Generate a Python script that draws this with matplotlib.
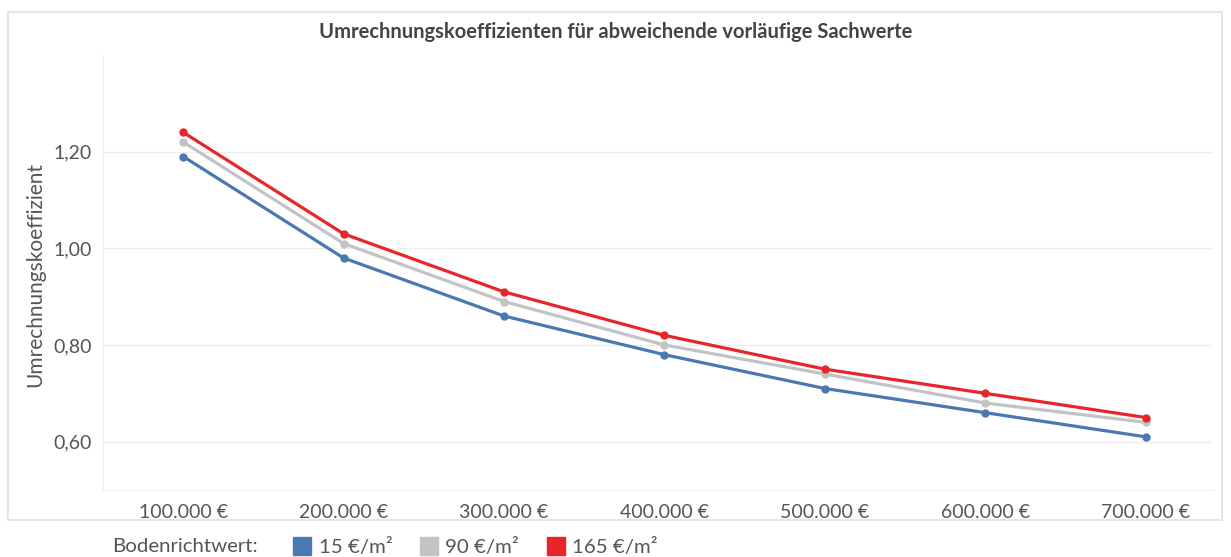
import matplotlib
matplotlib.use('Agg')
from matplotlib import pyplot as plt
from matplotlib.lines import Line2D
from matplotlib.patches import Rectangle

plt.rcParams['font.family'] = ['Lato', 'DejaVu Sans']

kategorien = ['100.000 €', '200.000 €', '300.000 €', '400.000 €',
              '500.000 €', '600.000 €', '700.000 €']
werte_15 = [1.19, 0.98, 0.86, 0.78, 0.71, 0.66, 0.61]
werte_90 = [1.22, 1.01, 0.89, 0.80, 0.74, 0.68, 0.64]
werte_165 = [1.24, 1.03, 0.91, 0.82, 0.75, 0.70, 0.65]
serien_namen = ['15 €/m²', '90 €/m²', '165 €/m²']
y_ticks = [0.60, 0.80, 1.00, 1.20]

farben = ['#4a78b0', '#c3c3c3', '#e8262a']

fig = plt.figure(figsize=(12.31, 5.57), dpi=100)
ax = fig.add_axes([103 / 1231, 1 - 490 / 557, (1213 - 103) / 1231, (490 - 55) / 557])

# rahmen um das diagramm
fig.patches.append(Rectangle((8 / 1231, 1 - 520 / 557), 1214 / 1231, 508 / 557,
                             transform=fig.transFigure, fill=False,
                             edgecolor='#e2e2e2', linewidth=1.2))

x = list(range(len(kategorien)))
for werte, farbe, name in zip([werte_15, werte_90, werte_165], farben, serien_namen):
    ax.plot(x, werte, color=farbe, linewidth=2.3, marker='o', markersize=5, label=name)

ax.set_xlim(-0.5, 6.42)
ax.set_ylim(0.5, 1.4)
ax.set_xticks(x)
ax.set_xticklabels(kategorien)
ax.set_yticks(y_ticks)
ax.set_yticklabels([f'{v:.2f}'.replace('.', ',') for v in y_ticks])
ax.tick_params(length=0, colors='#555555', labelsize=14)
ax.tick_params(axis='x', pad=10)
ax.tick_params(axis='y', pad=8)
ax.grid(axis='y', color='#eeeeee', linewidth=1)
ax.set_axisbelow(True)
for s in ['top', 'right']:
    ax.spines[s].set_visible(False)
ax.spines['left'].set_color('#eeeeee')
ax.spines['bottom'].set_color('#eeeeee')

fig.text(35 / 1231, 1 - 275 / 557, 'Umrechnungskoeffizient', rotation=90,
         ha='center', va='center', fontsize=15, color='#555555')
fig.text(0.5, 1 - 32 / 557, 'Umrechnungskoeffizienten für abweichende vorläufige Sachwerte',
         ha='center', va='center', fontsize=14.5, fontweight='bold', color='#444444')

fig.text(112 / 1231, 1 - 546 / 557, 'Bodenrichtwert:', ha='left', va='center',
         fontsize=14.7, color='#555555')
handles = [Line2D([], [], linestyle='none', marker='s', markersize=13.5,
                  markerfacecolor=f, markeredgecolor=f) for f in farben]
fig.legend(handles, serien_namen, loc='center left', ncol=3,
           bbox_to_anchor=(292 / 1231, 1 - 547 / 557), frameon=False,
           borderpad=0, borderaxespad=0,
           handlelength=1.0, handletextpad=0.3, columnspacing=1.3,
           fontsize=14.7, labelcolor='#555555')

fig.savefig('out.png', dpi=100)
